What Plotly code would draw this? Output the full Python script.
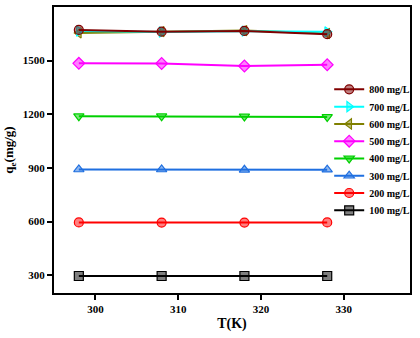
import plotly.graph_objects as go

temps = [298, 308, 318, 328]
labels = ["100 mg/L", "200 mg/L", "300 mg/L", "400 mg/L",
          "500 mg/L", "600 mg/L", "700 mg/L", "800 mg/L"]
q100 = [295, 295, 295, 295]
q200 = [595, 594, 594, 595]
q300 = [891, 891, 889, 890]
q400 = [1189, 1189, 1188, 1185]
q500 = [1485, 1484, 1470, 1477]
q600 = [1655, 1662, 1668, 1652]
q700 = [1666, 1660, 1665, 1661]
q800 = [1672, 1662, 1666, 1648]
x_ticks = [300, 310, 320, 330]
y_ticks = [300, 600, 900, 1200, 1500]

series = [q100, q200, q300, q400, q500, q600, q700, q800]
colors = ["#000000", "#FF0000", "#1F6FE0", "#00D000",
          "#FF00FF", "#808000", "#00FFFF", "#800000"]
tints = ["rgba(0,0,0,0.5)", "rgba(255,0,0,0.5)", "rgba(31,111,224,0.5)", "rgba(0,208,0,0.5)",
         "rgba(255,0,255,0.5)", "rgba(128,128,0,0.5)", "rgba(0,255,255,0.5)", "rgba(128,0,0,0.5)"]
symbols = ["square", "circle", "triangle-up", "triangle-down",
           "diamond", "triangle-left", "triangle-right", "circle"]

font = "Liberation Serif, Times New Roman, serif"
n = len(labels)
top_row = 0.712   # paper y of the 800 mg/L legend row
step = 0.0604     # paper spacing between legend rows

fig = go.Figure()
legend_layout = {}
for i, (lab, ys, c, t, s) in enumerate(zip(labels, series, colors, tints, symbols)):
    rank = n - 1 - i  # 800 at top
    lname = "legend" if i == 0 else f"legend{i + 1}"
    fig.add_trace(go.Scatter(
        x=temps, y=ys, name=lab, mode="lines+markers",
        line=dict(color=c, width=2),
        marker=dict(symbol=s, size=9, color=t,
                    line=dict(color=c, width=1.2)),
        legend=lname,
    ))
    legend_layout[lname] = dict(
        x=0.773, y=top_row - rank * step, xanchor="left", yanchor="middle",
        bgcolor="rgba(0,0,0,0)",
        font=dict(family=font, size=10, color="black", weight="bold"),
        itemwidth=30)

fig.update_layout(
    width=420, height=338,
    margin=dict(l=54, r=8, t=5, b=45),
    paper_bgcolor="white", plot_bgcolor="white",
    font=dict(family=font, color="black", size=10),
    showlegend=True,
    xaxis=dict(range=[295, 338], tickvals=x_ticks, showgrid=False, zeroline=False,
               showline=True, linecolor="black", linewidth=2, mirror=True,
               ticks="outside", ticklen=5, tickwidth=2, tickcolor="black",
               tickfont=dict(family=font, size=11, weight="bold"),
               title=dict(text="T(K)", font=dict(family=font, size=14, weight="bold"), standoff=4)),
    yaxis=dict(range=[200, 1800], tickvals=y_ticks, showgrid=False, zeroline=False,
               showline=True, linecolor="black", linewidth=2, mirror=True,
               ticks="outside", ticklen=5, tickwidth=2, tickcolor="black",
               tickfont=dict(family=font, size=11, weight="bold"),
               title=dict(text="q<sub>e</sub>(mg/g)", font=dict(family=font, size=13, weight="bold"), standoff=6)),
    **legend_layout,
)

fig.write_html("out.html", config={"displayModeBar": False},
               post_script="document.body.style.margin='0';")
